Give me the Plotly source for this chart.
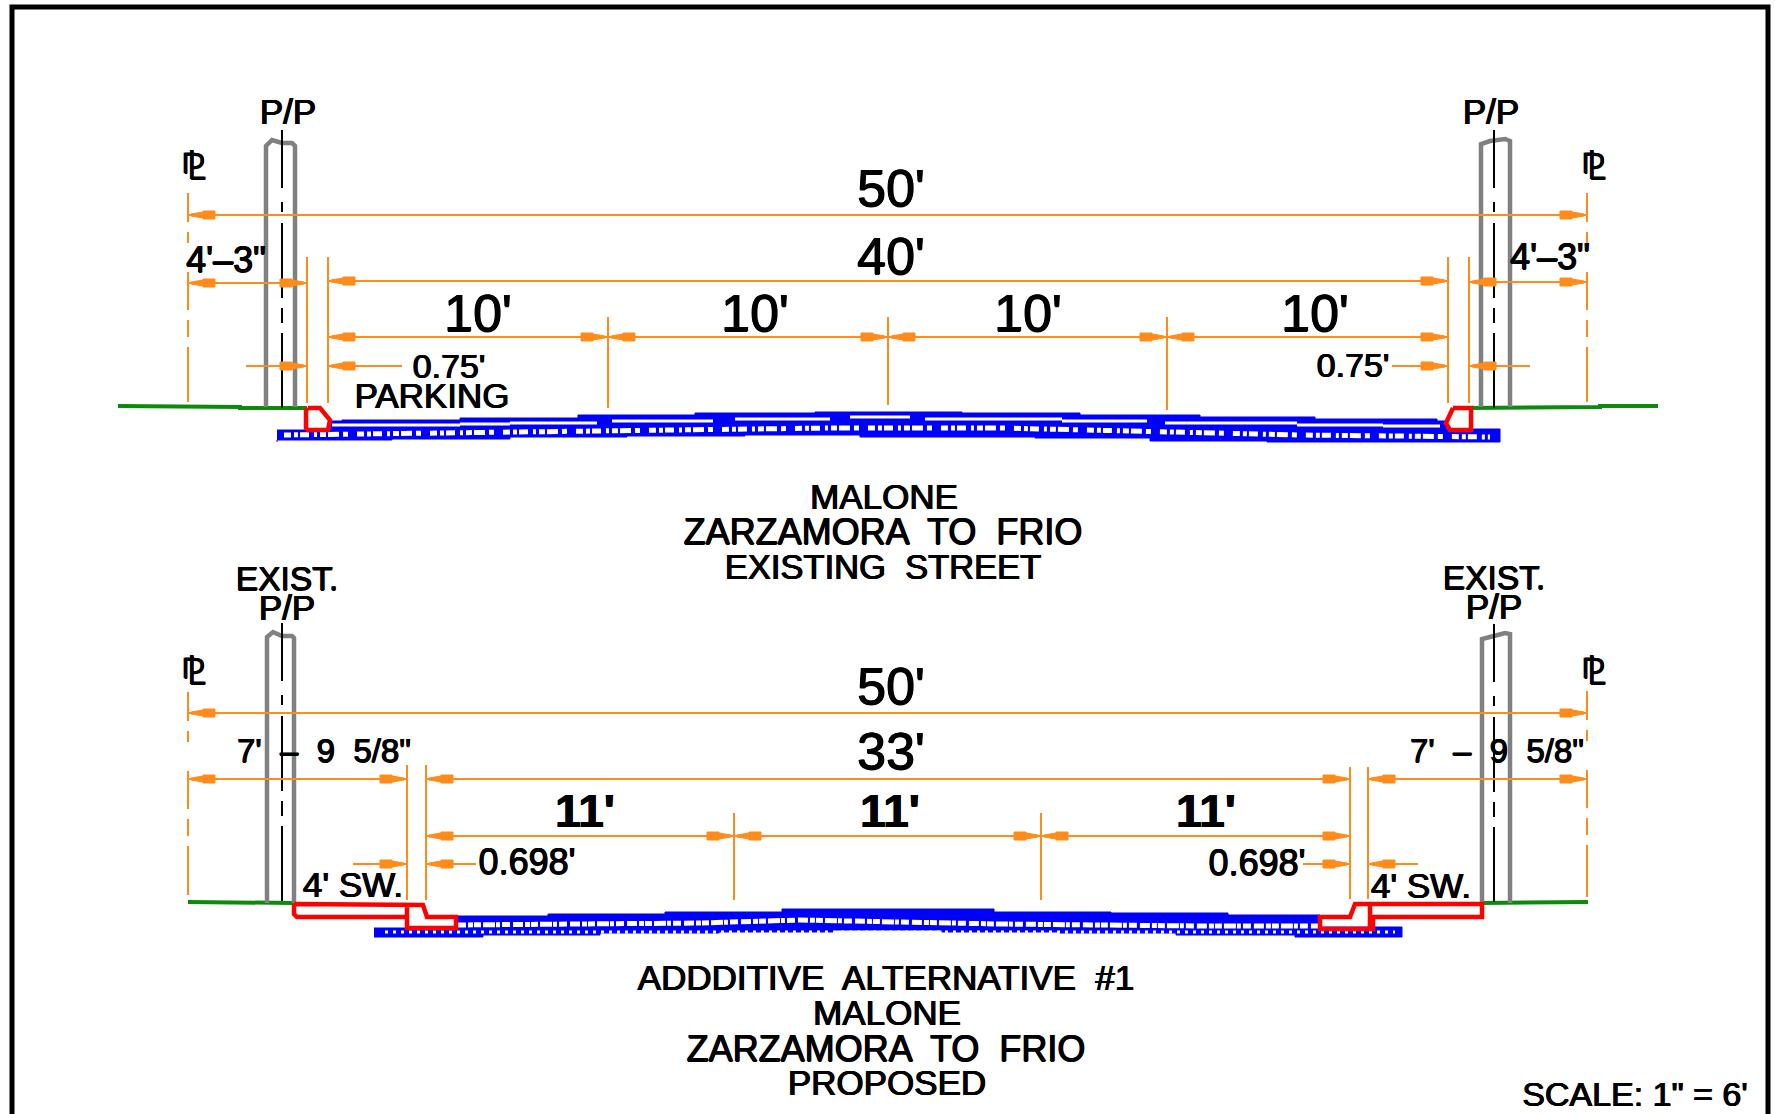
import plotly.graph_objects as go

W, H = 1775, 1114
ORANGE, BLACK, GRAY, GREEN, RED, BLUE = "#ff8c1a", "#000000", "#808080", "#0a8c0a", "#ff0000", "#0000ff"

# ---- frame
FRAME_X = [12, 12, 1768, 1768]
FRAME_Y = [1114, 7, 7, 1114]

# ---- utility poles: [x...], [y...]
POLES = [
    ([266, 266, 272, 282, 292, 295, 295], [407, 146, 140, 143, 143, 146, 407]),
    ([1481, 1481, 1490, 1505, 1510, 1510], [407, 144, 141, 139, 141, 407]),
    ([267, 267, 273, 282, 292, 294, 294], [903, 637, 632, 636, 636, 638, 903]),
    ([1482, 1482, 1490, 1505, 1510, 1510], [903, 639, 637, 633, 634, 903]),
]
POLE_CENTERS = [(282, 130, 421), (1494, 130, 421), (282, 623, 915), (1494, 624, 915)]
CL_LINES = [(188, 193, 402), (1587, 193, 402), (188, 692, 895), (1587, 691, 897)]

# ---- ground lines
GROUND = [
    ([118, 175, 175, 240, 240, 307], [406, 406, 407, 407, 408, 408]),
    ([1468, 1535, 1535, 1600, 1600, 1658], [408, 408, 407, 407, 406, 406]),
    ([188, 228, 228, 294], [902, 902, 903, 903]),
    ([1482, 1545, 1545, 1588], [903, 903, 902, 902]),
]

# ---- curb / sidewalk outlines
CURBS = [
    ([308, 320, 330, 328, 308, 306, 306, 308], [408, 408, 420, 430, 430, 428, 410, 408]),
    ([1453, 1471, 1471, 1450, 1446, 1453], [408, 408, 430, 430, 423, 408]),
    ([294, 407, 423, 427, 456, 456, 405, 407, 407, 407, 407, 297, 294, 294],
     [904, 905, 905, 917, 917, 928, 928, 928, 907, 917, 917, 917, 914, 904]),
    ([1482, 1355, 1350, 1320, 1320, 1373, 1373, 1482, 1482, 1373, 1370, 1370],
     [904, 904, 917, 917, 929, 929, 917, 917, 904, 904, 904, 929]),
]

# ---- pavement outlines (stepped)
TOP_PAV_UP_X = [277, 330, 342, 460, 578, 695, 815, 962, 1080, 1200, 1315, 1437, 1446, 1500]
TOP_PAV_UP_Y = [430, 421, 420, 418, 415, 413, 412, 413, 415, 417, 419, 421, 429, 429]
TOP_PAV_LO_X = [1500, 1385, 1267, 1150, 1035, 860, 745, 627, 510, 392, 277]
TOP_PAV_LO_Y = [442, 442, 441, 438, 437, 435, 436, 437, 439, 440, 442]
LOW_PAV_UP_X = [374, 456, 548, 665, 782, 994, 1111, 1228, 1320, 1402]
LOW_PAV_UP_Y = [928, 916, 914, 912, 909, 912, 913, 915, 927, 927]
LOW_PAV_LO_X = [1402, 1295, 1176, 1059, 942, 835, 719, 600, 483, 374]
LOW_PAV_LO_Y = [937, 935, 933, 932, 930, 932, 933, 935, 937, 937]

# white gap between the two upper layers of the top pavement: x0, x1, y
TOP_GAPS = [(332, 460, 425), (460, 510, 424), (510, 597, 423), (612, 713, 421), (735, 830, 419),
            (850, 910, 417), (925, 1062, 419), (1062, 1147, 421), (1165, 1297, 423),
            (1297, 1383, 425), (1383, 1440, 426)]

# white speckled core of each base layer
TOP_SPECK_X = [284, 500, 700, 830, 1000, 1150, 1300, 1490]
TOP_SPECK_Y = [435, 432, 430, 428, 428, 431, 435, 437]
LOW_SPECK_X = [456, 600, 700, 800, 1000, 1200, 1320]
LOW_SPECK_Y = [925, 924, 923, 920, 924, 926, 926]
LOW_DOTS_X = [385, 392, 1380, 1388, 1395]
LOW_DOTS_Y = [932, 932, 932, 932, 932]

# ---- dimension lines: x0, x1, y
DIMS = [
    (188, 1587, 215), (188, 307, 283), (328, 1448, 281), (1469, 1587, 282), (328, 1448, 337),
    (246, 307, 366), (328, 402, 366), (1392, 1448, 366), (1469, 1530, 366),
    (188, 1587, 713), (188, 407, 779), (426, 1350, 779), (1368, 1587, 779), (426, 1350, 836),
    (353, 407, 864), (426, 476, 864), (1303, 1350, 864), (1368, 1418, 864),
]
# ---- extension / tick lines: x, y0, y1
EXTS = [
    (307, 257, 403), (328, 257, 403), (1448, 257, 403), (1469, 257, 403),
    (608, 317, 408), (888, 317, 405), (1167, 317, 410),
    (407, 765, 900), (426, 765, 900), (1350, 767, 899), (1368, 767, 899),
    (734, 813, 900), (1041, 813, 900),
]
# ---- arrow tips: x, y
ARROW_R = [(1587, 215), (307, 283), (1448, 281), (1587, 282), (608, 337), (888, 337), (1167, 337),
           (1448, 337), (307, 366), (1448, 366),
           (1587, 713), (407, 779), (1350, 779), (1587, 779), (734, 836), (1041, 836), (1350, 836),
           (407, 864), (1350, 864)]
ARROW_L = [(188, 215), (188, 283), (328, 281), (1469, 282), (328, 337), (608, 337), (888, 337),
           (1167, 337), (328, 366), (1469, 366),
           (188, 713), (188, 779), (426, 779), (1368, 779), (426, 836), (734, 836), (1041, 836),
           (426, 864), (1368, 864)]

# ---- text labels: text, x, y, size, bold
LABELS = [
    ("P/P", 288, 115, 35, 0), ("P/P", 1491, 115, 35, 0),
    ("⅊", 193, 170, 37, 0), ("⅊", 1593, 170, 37, 0), ("⅊", 193, 675, 37, 0), ("⅊", 1593, 675, 37, 0),
    ("50'", 891, 193, 52, 0), ("40'", 891, 261, 52, 0),
    ("10'", 478, 318, 52, 0), ("10'", 755, 318, 52, 0), ("10'", 1028, 318, 52, 0), ("10'", 1315, 318, 52, 0),
    ("4'–3\"", 226, 263, 36, 0), ("4'–3\"", 1550, 260, 36, 0),
    ("0.75'", 449, 369, 34, 0), ("0.75'", 1353, 368, 34, 0), ("PARKING", 432, 399, 35, 0),
    ("MALONE", 884, 500, 35, 0), ("ZARZAMORA  TO  FRIO", 883, 535, 36, 0), ("EXISTING  STREET", 883, 570, 34.5, 0),
    ("EXIST.", 287, 582, 33.5, 0), ("P/P", 287, 611, 35, 0), ("EXIST.", 1494, 581, 33.5, 0), ("P/P", 1494, 610, 35, 0),
    ("50'", 891, 691, 52, 0), ("33'", 891, 756, 52, 0),
    ("11'", 585, 815, 46, 1), ("11'", 890, 815, 46, 1), ("11'", 1206, 815, 46, 1),
    ("7'  –  9  5/8\"", 324, 754, 33, 0), ("7'  –  9  5/8\"", 1497, 754, 33, 0),
    ("0.698'", 527, 865, 36, 0), ("0.698'", 1257, 866, 36, 0),
    ("4' SW.", 353, 888, 35, 0), ("4' SW.", 1421, 889, 35, 0),
    ("ADDDITIVE  ALTERNATIVE  #1", 886, 981, 35, 0), ("MALONE", 887, 1016, 35, 0),
    ("ZARZAMORA  TO  FRIO", 886, 1052, 36, 0), ("PROPOSED", 887, 1086, 35, 0),
    ("SCALE: 1\" = 6'", 1635, 1097, 34, 0),
]

fig = go.Figure()


def line(xs, ys, color, width, dash="solid", shape="linear"):
    fig.add_trace(go.Scatter(x=xs, y=ys, mode="lines", hoverinfo="skip", showlegend=False,
                             line=dict(color=color, width=width, dash=dash, shape=shape)))


def fill(xs, ys, color, shape="linear"):
    fig.add_trace(go.Scatter(x=xs, y=ys, mode="lines", fill="toself", fillcolor=color, hoverinfo="skip",
                             showlegend=False, line=dict(color=color, width=1, shape=shape)))


def arrow(tip, y, sign):
    dx = [3, 15, 15, 27, 27, 15, 15, 3]
    dy = [-1, -3, -4, -4, 4, 4, 3, 1]
    fill([tip + sign * d for d in dx], [y + d for d in dy], ORANGE)


line(FRAME_X, FRAME_Y, BLACK, 5)

# pavements
fill(TOP_PAV_UP_X + TOP_PAV_LO_X, TOP_PAV_UP_Y + TOP_PAV_LO_Y, BLUE, "hv")
fill(LOW_PAV_UP_X + LOW_PAV_LO_X, LOW_PAV_UP_Y + LOW_PAV_LO_Y, BLUE, "hv")
for x0, x1, y in TOP_GAPS:
    line([x0, x1], [y, y], "#ffffff", 3)
line(TOP_SPECK_X, TOP_SPECK_Y, "#ffffff", 5, "7px,3px,4px,2px,9px,5px,3px,3px,6px,2px,11px,4px,5px,9px")
line(LOW_SPECK_X, LOW_SPECK_Y, "#ffffff", 5, "10px,2px,5px,1px,7px,2px,12px,1px,4px,2px,8px,3px")
line(LOW_DOTS_X, LOW_DOTS_Y, "#ffffff", 3, "3px,5px")

# ground
for xs, ys in GROUND:
    line(xs, ys, GREEN, 4)

# poles and centre lines
for xs, ys in POLES:
    line(xs, ys, GRAY, 4.5)
for x, y0, y1 in POLE_CENTERS:
    line([x, x], [y0, y1], BLACK, 2, "58px,14px,10px,11px,75px,10px,15px,10px,75px")

# curbs
for xs, ys in CURBS:
    line(xs, ys, RED, 4.5)

# dimensions
for x, y0, y1 in CL_LINES:
    line([x, x], [y0, y1], ORANGE, 2, "29px,10px,11px,29px,38px,10px,17px,10px,55px")
for x0, x1, y in DIMS:
    line([x0, x1], [y, y], ORANGE, 2)
for x, y0, y1 in EXTS:
    line([x, x], [y0, y1], ORANGE, 2)
for x, y in ARROW_R:
    arrow(x, y, -1)
for x, y in ARROW_L:
    arrow(x, y, 1)

# text (a hairline shadow gives the heavy plotted CAD lettering)
for text, x, y, size, bold in LABELS:
    fig.add_trace(go.Scatter(x=[x], y=[y], mode="text", text=[text], textposition="middle center",
                             hoverinfo="skip", showlegend=False,
                             textfont=dict(family="Liberation Sans, DejaVu Sans", size=size, color=BLACK,
                                           weight="bold" if bold else "normal",
                                           shadow="0.6px 0 0 #000, -0.6px 0 0 #000, 0 0.5px 0 #000")))

fig.update_layout(
    width=W, height=H, margin=dict(l=0, r=0, t=0, b=0),
    paper_bgcolor="#ffffff", plot_bgcolor="#ffffff", showlegend=False,
    xaxis=dict(range=[0, W], visible=False, fixedrange=True),
    yaxis=dict(range=[H, 0], visible=False, fixedrange=True),
)
fig.write_html("out.html", config={"displayModeBar": False},
               post_script="document.body.style.margin='0';document.body.style.overflow='hidden';")
